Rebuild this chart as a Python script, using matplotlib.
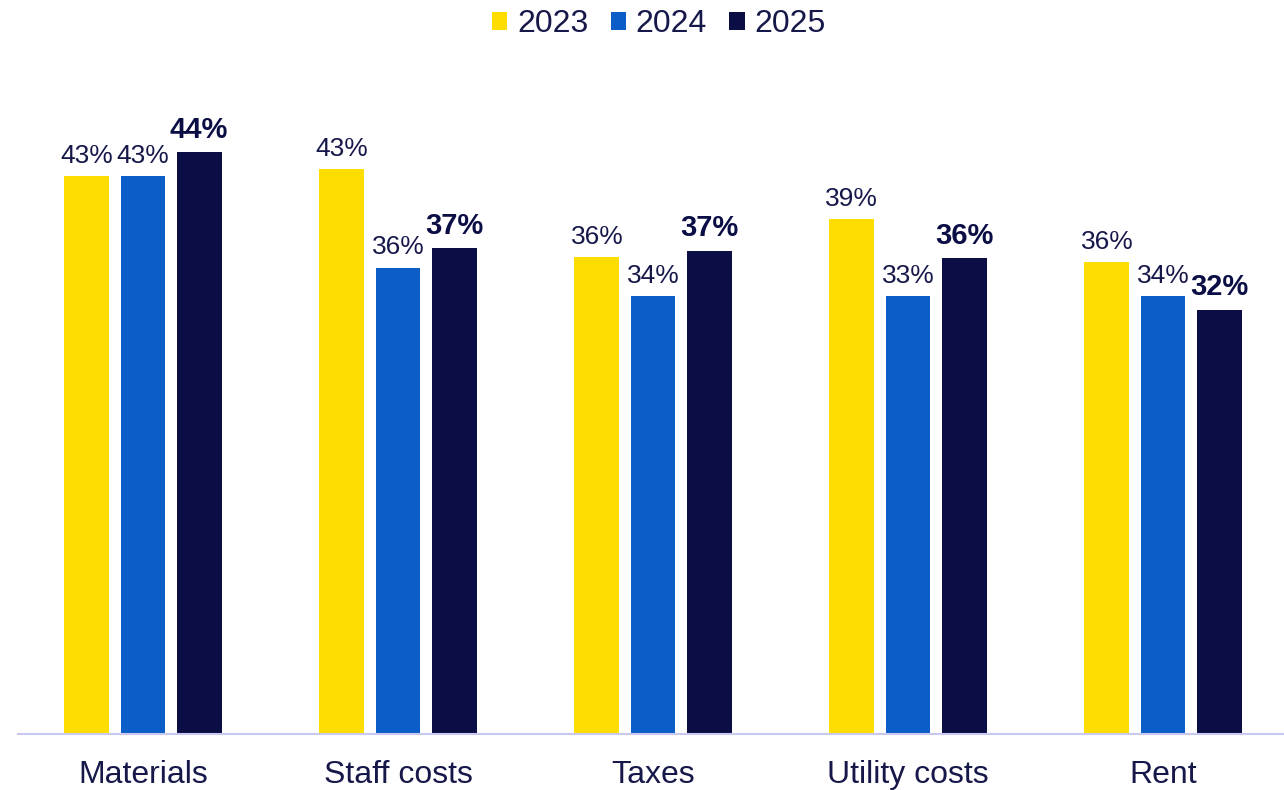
import numpy as np
import matplotlib.pyplot as plt

plt.rcParams['font.family'] = ['Liberation Sans', 'DejaVu Sans']

# data
categories = ['Materials', 'Staff costs', 'Taxes', 'Utility costs', 'Rent']
years = ['2023', '2024', '2025']
v2023 = [42.6, 43.1, 36.4, 39.3, 36.0]
v2024 = [42.6, 35.6, 33.4, 33.4, 33.4]
v2025 = [44.4, 37.1, 36.9, 36.3, 32.4]
labels2023 = ['43%', '43%', '36%', '39%', '36%']
labels2024 = ['43%', '36%', '34%', '33%', '34%']
labels2025 = ['44%', '37%', '37%', '36%', '32%']

colors = ['#FFDD00', '#0B5EC7', '#0A0E45']
text_color = '#16184A'

fig = plt.figure(figsize=(12.84, 7.90), dpi=100)
ax = fig.add_axes([18 / 1284, 56 / 790, 1266 / 1284, 655 / 790])

x = np.arange(len(categories))
width = 0.176
step = 0.22
series = [v2023, v2024, v2025]
label_sets = [labels2023, labels2024, labels2025]

for i, (vals, labs) in enumerate(zip(series, label_sets)):
    bars = ax.bar(x + (i - 1) * step, vals, width, color=colors[i], label=years[i])
    for b, lab in zip(bars, labs):
        ax.annotate(lab, (b.get_x() + b.get_width() / 2, b.get_height()),
                    xytext=(0, 6), textcoords='offset points',
                    ha='center', va='bottom',
                    fontsize=21 if i == 2 else 19,
                    color=text_color if i < 2 else colors[2],
                    fontweight='bold' if i == 2 else 'normal')

ax.set_xlim(-125 / 255, (1284 - 143) / 255)
ax.set_ylim(0, 50)
ax.set_yticks([])
ax.set_xticks(x)
ax.set_xticklabels(categories, fontsize=23, color=text_color)
ax.tick_params(axis='x', length=0, pad=19)
for s in ['top', 'right', 'left']:
    ax.spines[s].set_visible(False)
ax.spines['bottom'].set_color('#C8C8F0')
ax.spines['bottom'].set_linewidth(1.5)

leg = fig.legend(loc='upper center', bbox_to_anchor=(0.513, 1.025), ncol=3,
                 frameon=False, fontsize=23, handlelength=0.48, handleheight=0.48,
                 handletextpad=0.3, columnspacing=0.7)
for t in leg.get_texts():
    t.set_color(text_color)

fig.savefig('out.png', dpi=100)
